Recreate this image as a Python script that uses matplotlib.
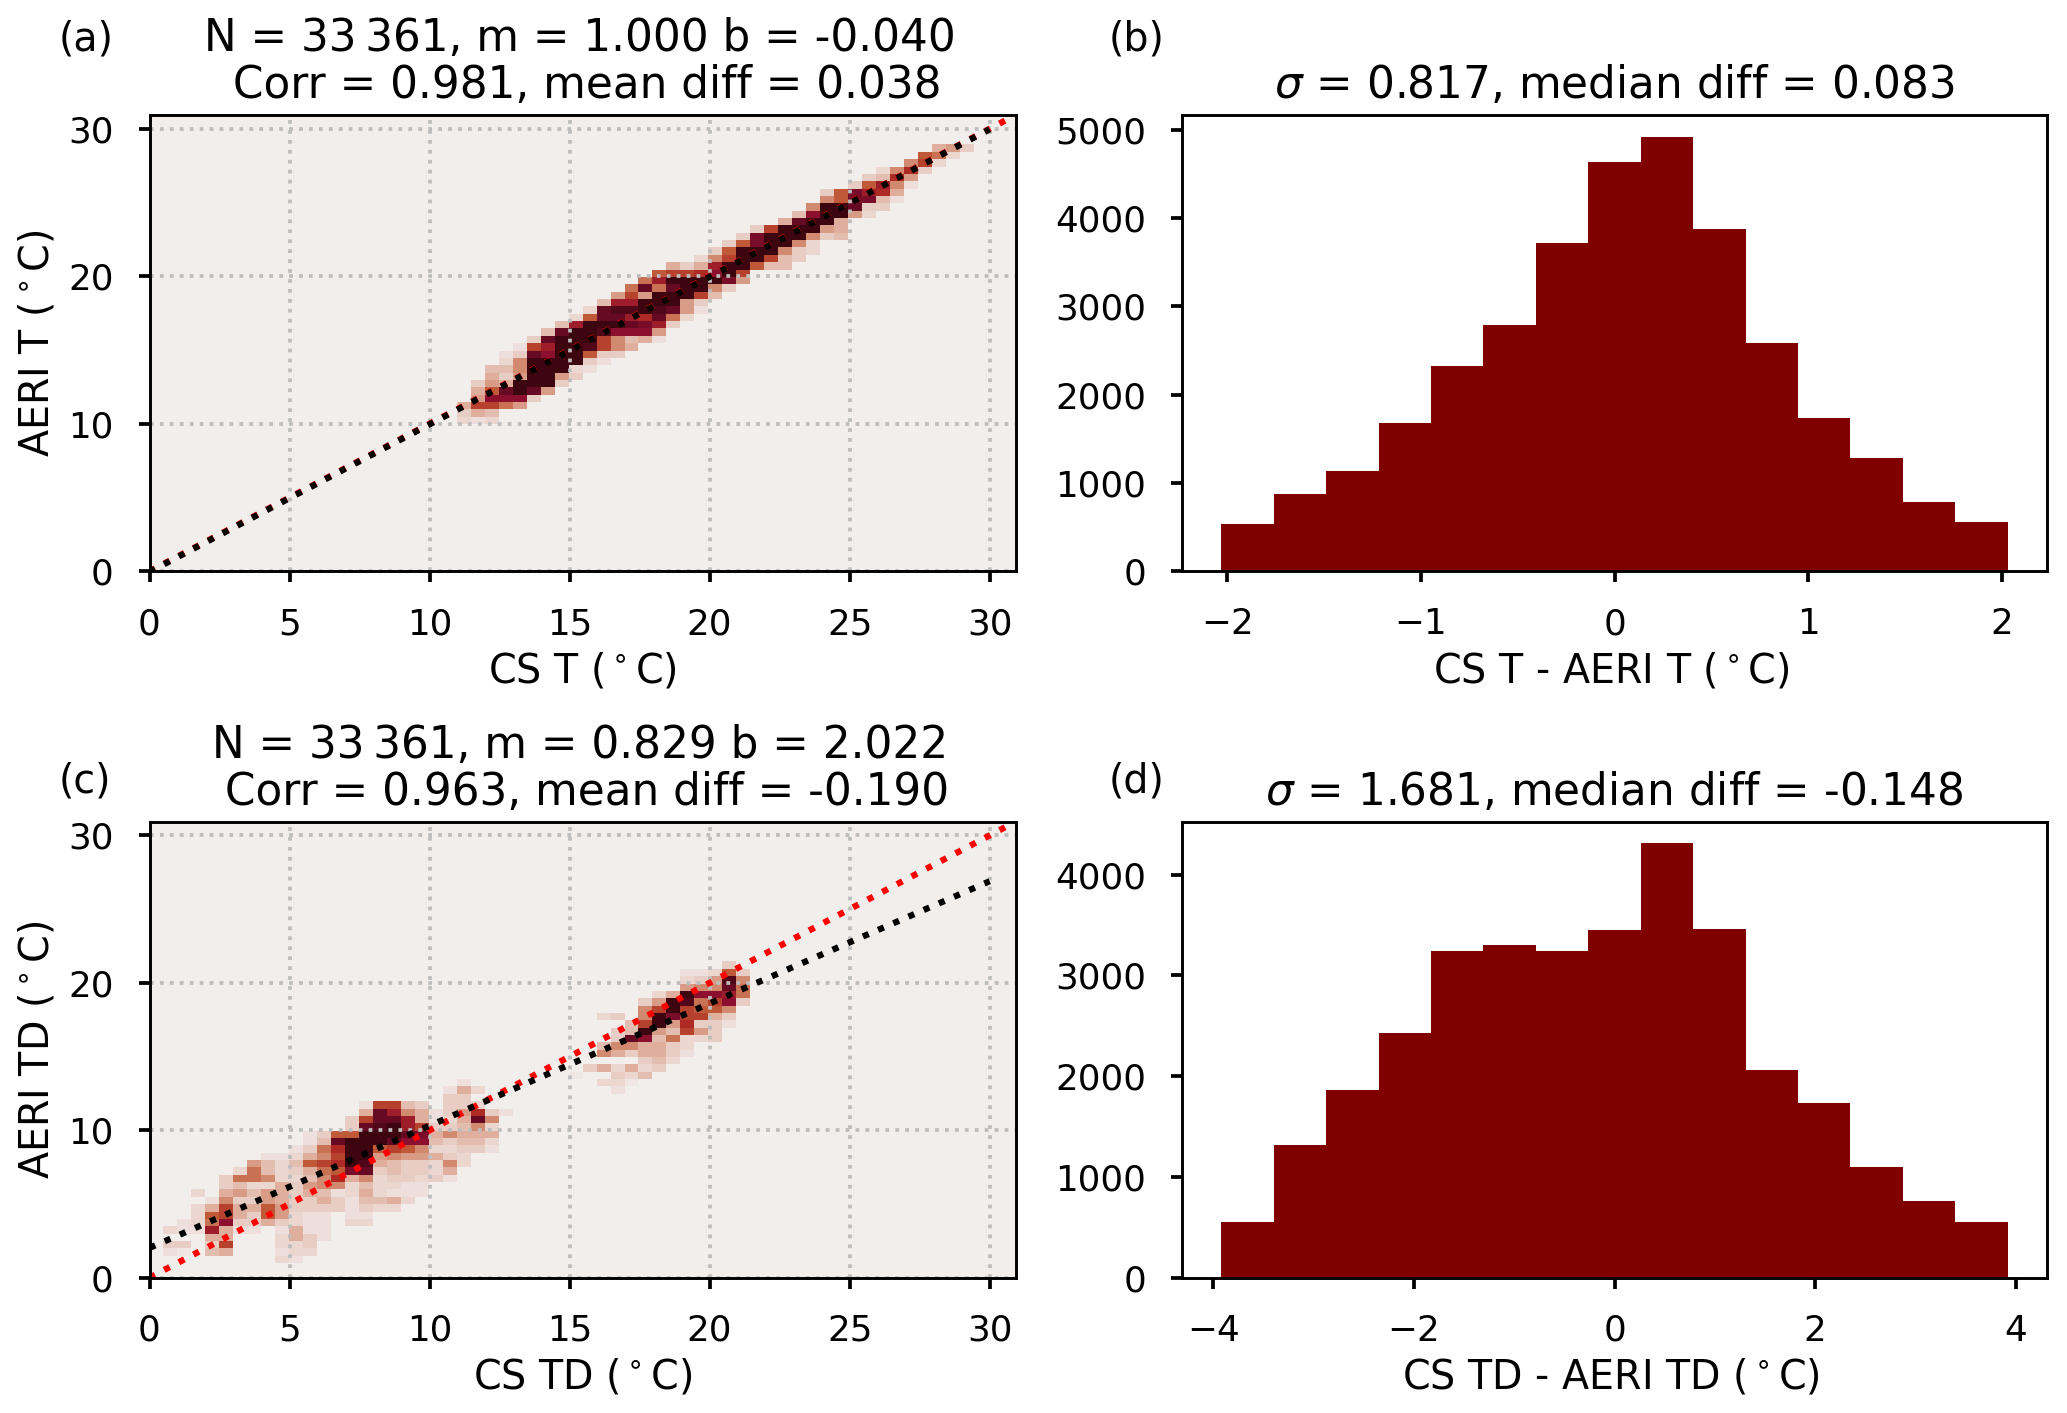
import numpy as np
import matplotlib
matplotlib.use("Agg")
import matplotlib.pyplot as plt
from matplotlib.colors import LinearSegmentedColormap

W, H_PX = 2067, 1413

# Scatter-density cells: (row bin, first column bin, shade levels 0-9)
rows_a = [
 (20,22,[1.5,1,1.5]),(21,22,[2,3,2.5]),(22,22,[3,5.5,5.5,4.5,3.5]),(23,23,[3.5,7,7,7,2]),
 (24,23,[3,5,8,9,8,3.5]),(25,23,[2,3.5,3,9,9,9,2]),(26,24,[3,2,3.5,9,9,3.5,2]),
 (27,24,[2.5,2.5,4,9,9,9,1.5,1]),(28,25,[1.5,4,9,9,9,9,2,1]),(29,25,[1,2,8,7,9,9,5,2,2]),
 (30,26,[1,5.5,6.5,9,9,8.5,5.5,4,3]),(31,27,[2,8,9,9,9,5.5,4,2.5,3,1]),
 (32,28,[2.5,8,9,9,8.5,7,7,7,3.5]),(33,29,[2.5,6.5,9,9,9,8,7.5,6.5,2]),
 (34,30,[1.5,5,8,8,6.5,6,8,4.5,1.5]),(35,31,[1.5,8,8.5,8.5,9,8.5,8,3.5,1]),
 (36,32,[2.5,6.5,6.5,9,9,9,3.5,2]),(37,33,[3.5,5.5,3.5,9,9,9,5.5,2.5]),
 (38,34,[4.5,8,4.5,8,9,9,4,2]),(39,35,[4.5,6.5,9,9,9,9,7.5,3.5]),
 (40,36,[5,5.5,5.5,6,7,9,5.5]),(41,37,[3,2,3,6.5,9,9,5,2.5,2.5]),
 (42,39,[1.5,4,5.5,9,9,5.5,2.5,2]),(43,40,[2,5,9,9,9,4,2,1.5]),
 (44,41,[2,5,7.5,9,9,4,1.5]),(45,42,[2,7.5,9,9,9,4,2,2.5]),
 (46,43,[2,5.5,9,9,9,3.5,3]),(47,45,[3,8,9,9,3]),(48,46,[2.5,7,9,9,3.5,1.5]),
 (49,47,[4,9,9,8,2,2]),(50,48,[4,5,7.5,7.5,2.5,1]),(51,48,[2,5,7.5,6.5,6,3]),
 (52,50,[2,5,6.5,4,1]),(53,51,[2,2.5,6,3.5]),(54,52,[1.5,4,6,2]),
 (55,54,[4,5.5,1.5]),(56,55,[5,4.5,1.5]),(57,56,[3,3.5,2]),
]
rows_c = [
 (2,9,[1.5,1]),(3,1,[1,.5,0,2.5,3,0,0,0,1,1.5,1.5]),(4,1,[2,2,0,2,5.5,0,0,0,1.5,1.5,2]),
 (5,4,[3,3,0,0,0,1.5,3,2,1]),(6,1,[1.5,1,1,6.5,3,1,1,0,1,3,1,1]),
 (7,2,[1,1.5,4.5,7,2,2,3,2,1.5,1,1,0,1.5,1.5]),(8,3,[1.5,5,5.5,3,2,5,3.5,1.5,1,1,0,1,1]),
 (9,3,[1.5,3,5.5,3,3,5,3.5,2,2,2,2,1,2,1.5,1.5]),
 (10,4,[1,4,2,2,3.5,3,2,2,3,2,1,2.5,2.5,3,1.5]),
 (11,3,[1.5,0,3,3.5,2.5,3.5,3,2,3,2.5,1,1.5,3,1.5,1,1,1]),
 (12,5,[2,2.5,1.5,1.5,3,2,3.5,4,4,1.5,2.5,1.5,1.5,1,1]),
 (13,5,[2,4.5,4.5,4,1.5,1.5,2.5,4,6,3,4,1.5,2,2,1.5,2,1]),
 (14,6,[1.5,4.5,2.5,1.5,2,3,4.5,5,7.5,8,2,2.5,2,2,1.5,3]),
 (15,7,[3.5,2.5,1.5,2.5,5,5.5,6,9,8.5,3,2.5,2,2,1.5,4,1.5]),
 (16,8,[1,1,1.5,3,4,5.5,9,9,3.5,4,3.5,3.5,3,2,1.5]),
 (17,10,[1,2,4.5,6,9,9,5,5.5,5,4,1.5,1.5,2,2,1]),
 (18,11,[1,2.5,8,9,9,9,8,7,7,2.5,2,2.5,2.5,1.5]),
 (19,11,[1,2,5,5,9,9,9,8,7.5,3,4,3,3,3]),
 (20,14,[2,8,8.5,9,6.5,5.5,2,2,2.5,4,1.5]),
 (21,14,[2,5.5,8,8,6.5,3,1,1.5,3,8,4]),
 (22,15,[3,8,6.5,4,3,1,2,3.5,6,2,1]),
 (23,15,[1,5.5,5.5,2.5,2,0,2,2,1.5]),
 (24,21,[2,2]),(25,21,[1,3,1.5]),(26,22,[1]),
 (25,33,[1]),(26,32,[1.5,1.5,.5]),(27,30,[.5,0,0,2,1.5,2.5]),
 (28,31,[2,3,1.5,3,1.5,2]),(29,35,[2,2.5,1.5]),(30,32,[4,3,2,3,3,2,1]),
 (31,32,[2.5,4,4,3,3,2,1.5]),(32,33,[2,8,7,2.5,4.5,1.5,1.5,2]),
 (33,33,[2,2.5,9,3.5,2.5,5.5,3.5,2]),(34,34,[2.5,5.5,9,3.5,6,2,2,1]),
 (35,32,[1.5,2,0,4,9,7.5,5.5,5.5,3,2]),(36,35,[4,5.5,9,5.5,5,5,4]),
 (37,35,[2,3.5,9,8.5,4.5,5.5,7,2]),(38,36,[1.5,3,9,7,7,6.5,4.5]),
 (39,38,[3.5,4,4,8,4.5]),(40,38,[1.5,2,3.5,8.5,4]),(41,38,[1,1,1.5,5,2]),(42,41,[2]),
]
n_bins = 62
axis_max = 30.93

# Fit statistics
m_a, b_a = 1.000, -0.040
m_c, b_c = 0.829, 2.022
fit_end = 30
one_to_one_end = 32

# Histograms
hist_b = [530,880,1140,1680,2320,2790,3720,4630,4920,3870,2590,1740,1280,780,560]
hist_d = [550,1320,1860,2430,3240,3300,3240,3450,4310,3460,2060,1730,1100,760,550]
range_b = 2.03
range_d = 3.92

title_a = "N = 33\u2009361, m = 1.000 b = -0.040\n Corr = 0.981, mean diff = 0.038"
title_c = "N = 33\u2009361, m = 0.829 b = 2.022\n Corr = 0.963, mean diff = -0.190"
title_b = r"$\sigma$ = 0.817, median diff = 0.083"
title_d = r"$\sigma$ = 1.681, median diff = -0.148"

shades = ["#f1eeec","#eedfdc","#e8cdc4","#dfae9c","#d18a6f","#c05a38","#ad2a25","#8e0f2f","#660a24","#3c0510"]
cmap = LinearSegmentedColormap.from_list("amp_like", shades)

plt.rcParams.update({"font.family":"DejaVu Sans","font.size":8.6,"axes.linewidth":0.7,
    "xtick.major.size":2.6,"ytick.major.size":2.6,"xtick.major.width":0.9,"ytick.major.width":0.9,
    "xtick.major.pad":6,"ytick.major.pad":6})
fig = plt.figure(figsize=(W/300, H_PX/300), dpi=300)

def rect(l, t, r, b):
    return [l/W, 1-b/H_PX, (r-l)/W, (b-t)/H_PX]

ax_a = fig.add_axes(rect(149.5,115,1015.7,571.3))
ax_b = fig.add_axes(rect(1182,115,2047,571.3))
ax_c = fig.add_axes(rect(149.5,821.7,1015.7,1277.7))
ax_d = fig.add_axes(rect(1182,821.7,2047,1277.7))

def density(ax, rows, m, b, xl, yl, title):
    grid = np.zeros((n_bins, n_bins))
    for j, k0, vals in rows:
        grid[j, k0:k0+len(vals)] = vals
    edges = np.linspace(0, axis_max, n_bins+1)
    ax.pcolormesh(edges, edges, grid, cmap=cmap, vmin=0, vmax=9, linewidth=0, rasterized=True)
    ax.set_xlim(0, axis_max); ax.set_ylim(0, axis_max)
    ax.set_xticks(range(0,31,5)); ax.set_yticks(range(0,31,10))
    ax.set_axisbelow(False)
    ax.grid(True, color="#bdbdbd", linestyle=":", linewidth=0.9)
    ax.plot([0,one_to_one_end],[0,one_to_one_end], color="red", ls=":", lw=1.5, zorder=3)
    xs = np.array([0,fit_end])
    ax.plot(xs, m*xs+b, color="black", ls=":", lw=1.5, zorder=3.1)
    for s in ax.spines.values():
        s.set_zorder(5)
    ax.set_xlabel(xl, fontsize=9.5, labelpad=2.5)
    ax.set_ylabel(yl, fontsize=9.5, labelpad=2.5)
    t = ax.set_title(title, fontsize=10.5, pad=4, linespacing=1.12)
    t.set_x(0.497)

def histogram(ax, vals, rng, xl, title):
    edges = np.linspace(-rng, rng, len(vals)+1)
    ax.bar(edges[:-1], vals, width=np.diff(edges), align="edge", color="#800000", linewidth=0)
    ax.set_xlabel(xl, fontsize=9.5, labelpad=2.5)
    ax.xaxis.label.set_x(0.496)
    ax.set_title(title, fontsize=10.5, pad=4)

density(ax_a, rows_a, m_a, b_a, r"CS T ($^\circ$C)", r"AERI T ($^\circ$C)", title_a)
density(ax_c, rows_c, m_c, b_c, r"CS TD ($^\circ$C)", r"AERI TD ($^\circ$C)", title_c)
histogram(ax_b, hist_b, range_b, r"CS T - AERI T ($^\circ$C)", title_b)
histogram(ax_d, hist_d, range_d, r"CS TD - AERI TD ($^\circ$C)", title_d)
ax_b.set_yticks(range(0,5001,1000))
ax_d.set_yticks(range(0,4001,1000))

for s, x, y in [("(a)",59,39),("(b)",1109,39),("(c)",59,782),("(d)",1109,782)]:
    fig.text(x/W, 1-y/H_PX, s, fontsize=9.5, ha="left", va="center")

fig.savefig("out.png", dpi=300)
